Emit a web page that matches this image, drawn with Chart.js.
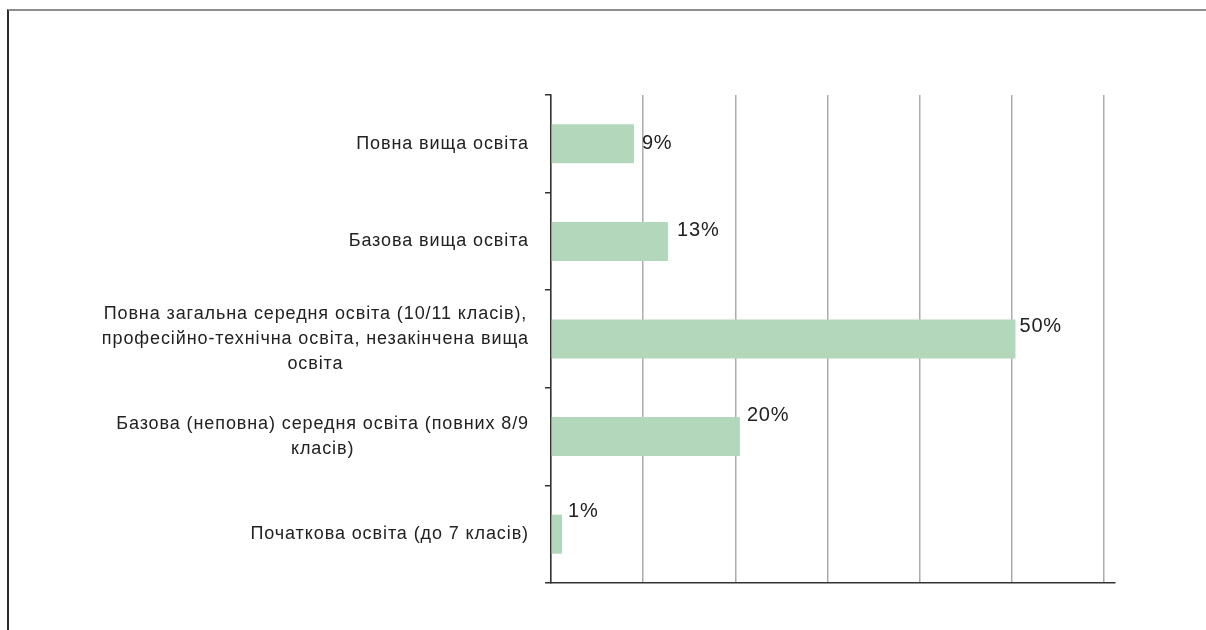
<!DOCTYPE html>
<html>
<head>
<meta charset="utf-8">
<script src="https://cdn.jsdelivr.net/npm/chart.js@4.4.0/dist/chart.umd.min.js"></script>
<style>
  html, body { margin: 0; padding: 0; background: #fff; }
  #wrap { position: relative; width: 1206px; height: 630px; overflow: hidden; }
  #wrap canvas { position: absolute; left: 0; top: 0; }
  #frame {
    position: absolute; left: 7px; top: 9px; right: 0; bottom: 0;
    border-left: 2px solid #2b2b2b; border-top: 2px solid #8e8e8e;
    pointer-events: none;
  }
</style>
</head>
<body>
<div id="wrap">
  <canvas id="eduChart" width="1206" height="630"></canvas>
  <div id="frame"></div>
</div>
<script>
// categories (one entry per bar, lines split as in the original)
const categories = [
  ['Повна вища освіта'],
  ['Базова вища освіта'],
  ['Повна загальна середня освіта (10/11 класів),', 'професійно-технічна освіта, незакінчена вища', 'освіта'],
  ['Базова (неповна) середня освіта (повних 8/9', 'класів)'],
  ['Початкова освіта (до 7 класів)']
];
// share of respondents, %
const shares = [9, 12.7, 50.4, 20.5, 1.2];
// value labels printed next to bars
const shareLabels = ['9%', '13%', '50%', '20%', '1%'];

// label placement relative to the bar end / bar top (the source places them unevenly)
const labelDx = [8, 9, 4, 7, 6];
const labelDy = [19, 9, 7, -2, -3];

const CAT_FONT = '18px "Liberation Sans", Arial, sans-serif';
const VAL_FONT = '20px "Liberation Sans", Arial, sans-serif';
const LINE_H = 25;
const TEXT_COLOR = '#222';

// category labels: block right-aligned to the axis, lines centred inside the block
const yLabels = {
  id: 'yLabels',
  afterDraw(chart) {
    const ctx = chart.ctx;
    const y = chart.scales.y;
    ctx.save();
    ctx.font = CAT_FONT;
    ctx.letterSpacing = '0.9px';
    ctx.fillStyle = TEXT_COLOR;
    ctx.textAlign = 'center';
    ctx.textBaseline = 'middle';
    categories.forEach((lines, i) => {
      const w = Math.max(...lines.map(l => ctx.measureText(l).width));
      const cx = y.right - 22 - w / 2;
      const cy = y.getPixelForTick(i);
      lines.forEach((l, j) => {
        ctx.fillText(l, cx, cy + (j - (lines.length - 1) / 2) * LINE_H);
      });
    });
    ctx.restore();
  }
};

// value labels at the end of each bar
const valueLabels = {
  id: 'valueLabels',
  afterDatasetsDraw(chart) {
    const ctx = chart.ctx;
    const meta = chart.getDatasetMeta(0);
    ctx.save();
    ctx.font = VAL_FONT;
    ctx.letterSpacing = '0.8px';
    ctx.fillStyle = TEXT_COLOR;
    ctx.textAlign = 'left';
    ctx.textBaseline = 'middle';
    meta.data.forEach((bar, i) => {
      const top = bar.y - bar.height / 2;
      ctx.fillText(shareLabels[i], bar.x + labelDx[i], top + labelDy[i]);
    });
    ctx.restore();
  }
};

new Chart(document.getElementById('eduChart'), {
  type: 'bar',
  data: {
    labels: categories,
    datasets: [{
      data: shares,
      backgroundColor: '#b3d7bb',
      borderWidth: 0,
      barPercentage: 0.4,
      categoryPercentage: 1
    }]
  },
  options: {
    indexAxis: 'y',
    responsive: false,
    animation: false,
    layout: { padding: { top: 95, bottom: 47, right: 91, left: 0 } },
    plugins: {
      legend: { display: false },
      tooltip: { enabled: false }
    },
    scales: {
      x: {
        min: 0,
        max: 61.2,
        ticks: { display: false, stepSize: 10, includeBounds: false },
        grid: { color: '#acacac', lineWidth: 1.5, drawTicks: false, tickLength: 0 },
        border: { display: true, color: '#333', width: 1.5 }
      },
      y: {
        afterFit: (scale) => { scale.width = 551; },
        ticks: { color: 'transparent', font: { size: 18 }, padding: 22 },
        grid: { offset: true, drawOnChartArea: false, drawTicks: true, tickLength: 6, color: '#333', lineWidth: 1.5 },
        border: { display: true, color: '#333', width: 1.5 }
      }
    }
  },
  plugins: [yLabels, valueLabels]
});
</script>
</body>
</html>
